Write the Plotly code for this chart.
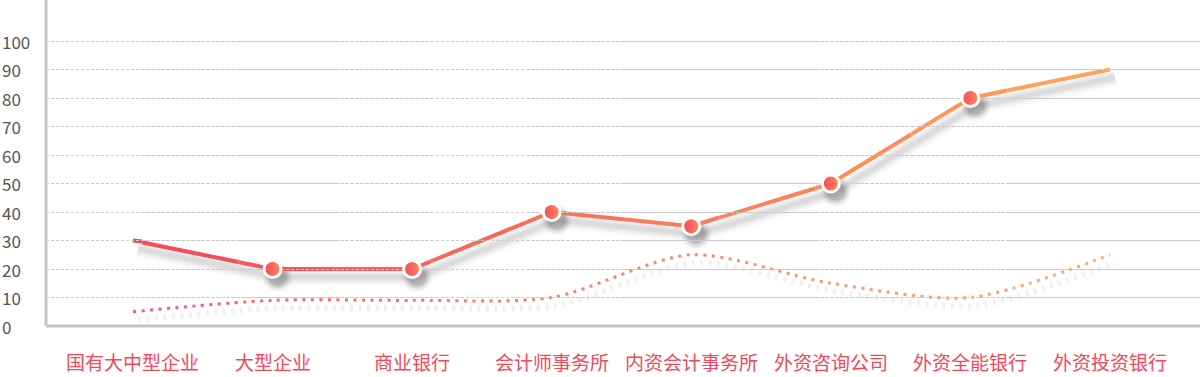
import plotly.graph_objects as go

categories = ["国有大中型企业", "大型企业", "商业银行", "会计师事务所", "内资会计事务所", "外资咨询公司", "外资全能银行", "外资投资银行"]
main_values = [30, 20, 20, 40, 35, 50, 80, 90]
dotted_values = [5, 9, 9, 10, 25, 15, 10, 25]
marker_show = [False, True, True, True, True, True, True, False]
y_ticks = [0, 10, 20, 30, 40, 50, 60, 70, 80, 90, 100]

W, H = 1200, 377
L, R, T, B = 46, 0, 0, 51
plot_w = W - L - R
plot_h = H - T - B

x_lo, x_hi = -0.623, 7.645
y_lo, y_hi = 0, 114.4
px_x = plot_w / (x_hi - x_lo)
px_y = plot_h / (y_hi - y_lo)

c0 = (245, 71, 90)
c1 = (255, 166, 90)


def mix(t, a=1.0):
    r, g, b = [round(c0[i] + (c1[i] - c0[i]) * t) for i in range(3)]
    return f"rgba({r},{g},{b},{a})"


xs = list(range(len(categories)))
fig = go.Figure()
layout = dict(
    width=W, height=H,
    margin=dict(l=L, r=R, t=T, b=B),
    paper_bgcolor="white", plot_bgcolor="rgba(0,0,0,0)",
    showlegend=False,
    font=dict(family="Noto Sans CJK SC, Noto Sans, sans-serif"),
)

layout["xaxis"] = dict(range=[x_lo, x_hi], tickvals=xs, showticklabels=False, ticks="",
                       showgrid=False, zeroline=False, showline=False, fixedrange=True)
layout["yaxis"] = dict(range=[y_lo, y_hi], tickvals=y_ticks, showticklabels=False,
                       showgrid=True, gridcolor="#cccccc", gridwidth=1, griddash="3px,2px",
                       zeroline=False, showline=False, fixedrange=True)

sdx, sdy = 5, 8
layout["xaxis2"] = dict(range=[x_lo - sdx / px_x, x_hi - sdx / px_x], visible=False,
                        anchor="y2", overlaying="x")
layout["yaxis2"] = dict(range=[y_lo + sdy / px_y, y_hi + sdy / px_y], visible=False,
                        anchor="x2", overlaying="y")

SM = 0.8

for w, a in [(18, 0.02), (13, 0.03), (9, 0.04), (5, 0.05)]:
    fig.add_trace(go.Scatter(x=xs, y=main_values, mode="lines", xaxis="x2", yaxis="y2",
                             line=dict(color=f"rgba(0,0,0,{a})", width=w), hoverinfo="skip"))
for w, a in [(8, 0.025), (5, 0.035)]:
    fig.add_trace(go.Scatter(x=xs, y=dotted_values, mode="lines", xaxis="x2", yaxis="y2",
                             line=dict(color=f"rgba(0,0,0,{a})", width=w, shape="spline",
                                       smoothing=SM, dash="3px,5.5px"), hoverinfo="skip"))
mx = [x for x, s in zip(xs, marker_show) if s]
my = [v for v, s in zip(main_values, marker_show) if s]
for s, a in [(30, 0.04), (26, 0.06), (22, 0.09), (18, 0.1)]:
    fig.add_trace(go.Scatter(x=mx, y=my, mode="markers", xaxis="x2", yaxis="y2",
                             marker=dict(size=s, color=f"rgba(0,0,0,{a})", line=dict(width=0)),
                             hoverinfo="skip"))

N = 12
for k in range(N):
    ax = k + 3
    d0, d1 = k / N, (k + 1) / N
    r0 = x_lo + (x_hi - x_lo) * d0
    r1 = x_lo + (x_hi - x_lo) * d1
    layout[f"xaxis{ax}"] = dict(domain=[d0, d1], range=[r0, r1], visible=False, anchor="y")
    tx = min(max(((r0 + r1) / 2) / 7, 0), 1)
    fig.add_trace(go.Scatter(x=xs, y=dotted_values, mode="lines", xaxis=f"x{ax}", yaxis="y",
                             line=dict(color=mix(tx, 0.9), width=3, shape="spline",
                                       smoothing=SM, dash="3px,5.5px"), hoverinfo="skip"))
    fig.add_trace(go.Scatter(x=xs, y=main_values, mode="lines", xaxis=f"x{ax}", yaxis="y",
                             line=dict(color=mix(tx), width=4), hoverinfo="skip"))

mk = N + 3
layout[f"xaxis{mk}"] = dict(domain=[0, 1], range=[x_lo, x_hi], visible=False, anchor="y")
fig.add_trace(go.Scatter(x=mx, y=my, mode="markers", xaxis=f"x{mk}", yaxis="y",
                         marker=dict(size=17, color="#f5475a",
                                     gradient=dict(type="horizontal", color="#ff8a5a"),
                                     line=dict(color="white", width=3)),
                         hoverinfo="skip", cliponaxis=False))

fig.add_shape(type="line", xref="paper", yref="paper", x0=0, x1=0, y0=0, y1=1,
              line=dict(color="#c3c3c3", width=3))
fig.add_shape(type="line", xref="paper", yref="paper", x0=0, x1=1, y0=0, y1=0,
              line=dict(color="#c3c3c3", width=3))

for v in y_ticks:
    fig.add_annotation(x=-L / plot_w, xref="paper", y=v, yref="y", text=str(v),
                       showarrow=False, xanchor="left", yanchor="middle",
                       font=dict(size=17, color="#555555"))

for x, c in zip(xs, categories):
    fig.add_annotation(x=x, xref="x", y=-(376 - plot_h) / plot_h, yref="paper", text=c,
                       showarrow=False, xanchor="center", yanchor="bottom",
                       borderpad=0, font=dict(size=19, color="#f5475a"))

fig.update_layout(**layout)
fig.write_html("out.html")
